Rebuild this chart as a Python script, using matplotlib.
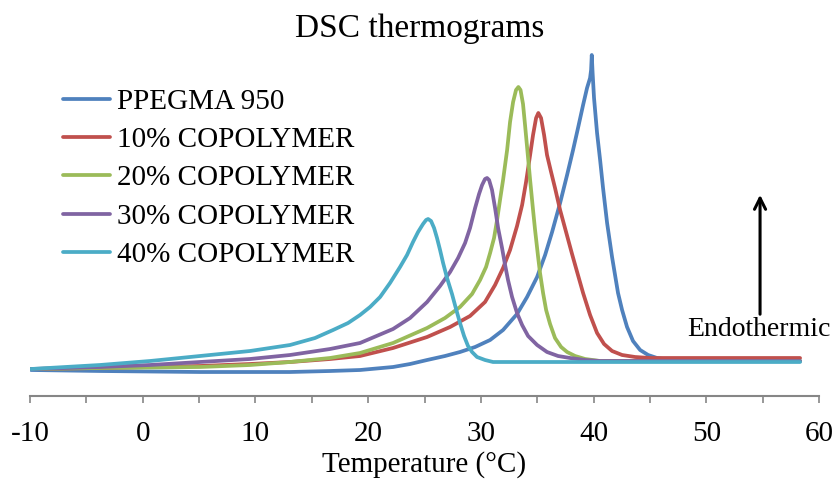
import matplotlib
matplotlib.use("Agg")
import matplotlib.pyplot as plt
from matplotlib.ticker import MultipleLocator

plt.rcParams['font.family'] = ['Liberation Serif', 'DejaVu Serif']
plt.rcParams['axes.unicode_minus'] = False

labels = ["PPEGMA 950", "10% COPOLYMER", "20% COPOLYMER", "30% COPOLYMER", "40% COPOLYMER"]
colors = ["#4F81BD", "#C0504D", "#9BBB59", "#8064A2", "#4BACC6"]

# Temperature (°C) and heat flow (arbitrary units) for each sample
t_ppegma = [-9.91, -3.79, 5.08, 13.07, 16.62, 19.28, 22.21, 23.72, 25.23, 26.82, 28.15, 29.49,
            30.82, 31.97, 33.21, 34.10, 34.99, 35.70, 36.32, 37.03, 37.65, 38.18, 38.62, 39.07,
            39.42, 39.69, 39.78, 39.84, 39.91, 40.04, 40.31, 40.58, 40.84, 41.20, 41.64, 42.17,
            42.53, 42.97, 43.50, 44.13, 44.84, 45.63, 46.79, 48.56, 58.32]
h_ppegma = [0.26, 0.25, 0.24, 0.24, 0.25, 0.26, 0.29, 0.32, 0.36, 0.40, 0.44, 0.49,
            0.56, 0.66, 0.82, 0.99, 1.19, 1.41, 1.64, 1.93, 2.21, 2.46, 2.68, 2.91,
            3.08, 3.18, 3.26, 3.41, 3.24, 2.98, 2.63, 2.36, 2.08, 1.73, 1.39, 1.03,
            0.86, 0.69, 0.55, 0.46, 0.41, 0.38, 0.36, 0.35, 0.35]

t_10 = [-9.91, -3.79, 0.65, 5.08, 9.52, 13.07, 16.62, 19.28, 22.21, 25.23, 27.27, 29.04,
        30.37, 31.26, 31.97, 32.59, 33.21, 33.66, 34.01, 34.37, 34.63, 34.90, 35.10, 35.34,
        35.61, 35.87, 36.23, 36.58, 37.03, 37.56, 38.09, 38.54, 39.07, 39.69, 40.31, 40.93,
        41.64, 42.53, 43.68, 45.01, 58.32]
h_10 = [0.27, 0.28, 0.29, 0.30, 0.32, 0.34, 0.37, 0.40, 0.48, 0.59, 0.69, 0.80,
        0.94, 1.11, 1.28, 1.46, 1.70, 1.91, 2.14, 2.41, 2.61, 2.78, 2.83, 2.78,
        2.61, 2.41, 2.24, 2.08, 1.86, 1.64, 1.42, 1.24, 1.03, 0.81, 0.63, 0.52,
        0.45, 0.41, 0.39, 0.38, 0.38]

t_20 = [-9.91, -3.79, 5.08, 9.52, 13.07, 16.62, 19.28, 22.21, 25.23, 26.82, 28.15, 29.22,
        29.93, 30.46, 30.82, 31.17, 31.44, 31.70, 31.97, 32.33, 32.59, 32.86, 33.12, 33.33,
        33.52, 33.74, 33.92, 34.19, 34.37, 34.63, 34.81, 35.08, 35.25, 35.52, 35.79, 36.14,
        36.58, 37.12, 37.65, 38.36, 39.25, 40.58, 58.32]
h_20 = [0.27, 0.28, 0.29, 0.31, 0.34, 0.38, 0.43, 0.53, 0.68, 0.78, 0.89, 1.02,
        1.16, 1.29, 1.43, 1.58, 1.76, 1.96, 2.16, 2.46, 2.74, 2.94, 3.06, 3.09,
        3.06, 2.92, 2.71, 2.38, 2.16, 1.86, 1.66, 1.39, 1.23, 1.03, 0.86, 0.72,
        0.58, 0.49, 0.44, 0.40, 0.37, 0.35, 0.35]

t_30 = [-9.91, -3.79, 0.65, 5.08, 9.52, 13.07, 16.62, 19.28, 22.21, 23.72, 25.23, 26.38,
        27.27, 27.98, 28.60, 29.04, 29.49, 29.84, 30.11, 30.37, 30.55, 30.73, 30.99, 31.26,
        31.53, 31.88, 32.15, 32.41, 32.77, 33.21, 33.66, 34.19, 34.99, 35.87, 36.85, 37.91,
        39.25, 40.58, 58.32]
h_30 = [0.27, 0.29, 0.31, 0.34, 0.37, 0.41, 0.47, 0.53, 0.67, 0.78, 0.94, 1.10,
        1.24, 1.38, 1.53, 1.68, 1.88, 2.02, 2.11, 2.17, 2.18, 2.16, 2.06, 1.88,
        1.68, 1.48, 1.31, 1.16, 0.99, 0.83, 0.71, 0.60, 0.51, 0.44, 0.40, 0.38,
        0.36, 0.35, 0.35]

t_40 = [-9.91, -3.79, 0.65, 5.08, 9.52, 13.07, 15.29, 16.89, 18.22, 19.28, 20.17, 21.06,
        21.94, 22.83, 23.45, 23.98, 24.43, 24.87, 25.14, 25.32, 25.58, 25.85, 26.11, 26.38,
        26.65, 27.00, 27.44, 27.80, 28.15, 28.51, 28.86, 29.22, 29.66, 30.37, 31.08, 33.48,
        58.32]
h_40 = [0.27, 0.31, 0.35, 0.40, 0.45, 0.51, 0.58, 0.66, 0.73, 0.81, 0.89, 0.99,
        1.13, 1.29, 1.41, 1.54, 1.64, 1.72, 1.76, 1.77, 1.75, 1.68, 1.58, 1.46,
        1.33, 1.18, 1.02, 0.87, 0.73, 0.60, 0.50, 0.44, 0.39, 0.36, 0.34, 0.34,
        0.34]

series_t = [t_ppegma, t_10, t_20, t_30, t_40]
series_h = [h_ppegma, h_10, h_20, h_30, h_40]

fig = plt.figure(figsize=(8.35, 4.8), dpi=100)
ax = fig.add_axes([30 / 835, 84 / 480, 789 / 835, 360 / 480])

lines = []
for t, h, c, lab in zip(series_t, series_h, colors, labels):
    ln, = ax.plot(t, h, color=c, lw=2.7, label=lab, solid_capstyle='round',
                  solid_joinstyle='round')
    lines.append(ln)

ax.set_xlim(-10, 60)
ax.set_ylim(0, 3.6)
for s in ['top', 'right', 'left']:
    ax.spines[s].set_visible(False)
ax.spines['bottom'].set_color('#868686')
ax.spines['bottom'].set_linewidth(1.5)
ax.set_yticks([])
ax.xaxis.set_major_locator(MultipleLocator(10))
ax.xaxis.set_minor_locator(MultipleLocator(5))
ax.tick_params(axis='x', which='both', direction='out', length=5, width=1.2,
               color='#868686', labelsize=21, pad=13, labelcolor='black')
ax.set_xlabel("Temperature (°C)", fontsize=21, labelpad=3)

fig.text(0.503, 0.940, "DSC thermograms", ha='center', va='center', fontsize=24)

leg = fig.legend(handles=lines, loc='upper left', bbox_to_anchor=(0.075, 0.816),
                 frameon=False, fontsize=21, handlelength=1.62, handletextpad=0.24,
                 labelspacing=0.41, borderpad=0, borderaxespad=0)

ax.annotate("", xy=(54.77, 2.04), xytext=(54.77, 0.79),
            arrowprops=dict(arrowstyle='->', color='black', lw=2.2, mutation_scale=20))
ax.text(48.3, 0.66, "Endothermic", fontsize=20, ha='left', va='center')

fig.savefig("out.png", dpi=100)
